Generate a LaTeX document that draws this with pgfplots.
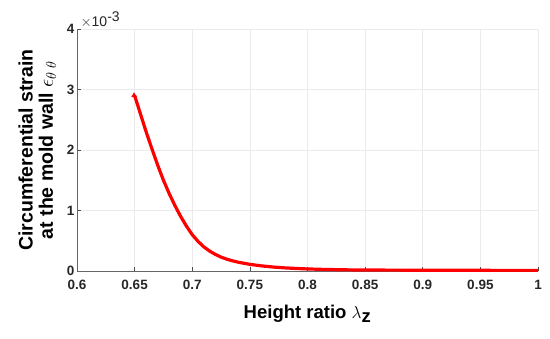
\documentclass[border=0pt]{standalone}
\usepackage{pgfplots}
\pgfplotsset{compat=1.18}
\usepackage{fontspec}
\setmainfont{Liberation Sans}
\begin{document}
\begin{tikzpicture}
\begin{axis}[
  scale only axis,
  width=461pt, height=242pt,
  xmin=0.6, xmax=1, ymin=0, ymax=4,
  xtick={0.6,0.65,...,1.001},
  xticklabels={0.6,0.65,0.7,0.75,0.8,0.85,0.9,0.95,1},
  ytick={0,1,2,3,4},
  axis x line*=bottom, axis y line*=left,
  axis line style={black!60, line width=0.8pt},
  tick style={black!70, line width=0.6pt},
  tick align=inside,
  major tick length=4pt,
  grid=major,
  grid style={black!8, line width=0.6pt},
  /pgf/number format/assume math mode=true,
  tick label style={font=\fontsize{13.5}{15}\selectfont\bfseries, text=black!85},
  xticklabel style={yshift=-6pt},
  yticklabel style={xshift=1pt},
  xlabel={\textbf{Height ratio} $\lambda_{\textbf{z}}$},
  xlabel style={font=\fontsize{18.5}{21}\selectfont\bfseries, yshift=-8pt},
  ylabel={\shortstack{\textbf{Circumferential strain}\\[3pt]\textbf{at the mold wall} $\epsilon_{\theta\;\theta}$}},
  ylabel style={font=\fontsize{19.5}{21}\selectfont\bfseries, yshift=4pt},
  clip=false,
]
\addplot[red, line width=3.2pt, line join=round] coordinates {
(0.650,2.90) (0.655,2.60) (0.660,2.30) (0.665,2.02) (0.670,1.75)
(0.675,1.50) (0.680,1.28) (0.685,1.08) (0.690,0.90) (0.695,0.74)
(0.700,0.60) (0.705,0.49) (0.710,0.40) (0.715,0.33) (0.720,0.275)
(0.725,0.23) (0.730,0.195) (0.735,0.168) (0.740,0.145) (0.750,0.110)
(0.760,0.085) (0.770,0.066) (0.780,0.052) (0.790,0.042) (0.800,0.034)
(0.815,0.026) (0.830,0.020) (0.850,0.016) (0.900,0.013) (0.950,0.011)
(1.000,0.010)
};
\addplot[red, only marks, mark=triangle*, mark size=2.8pt] coordinates {(0.6495,2.90)};
\node[anchor=south west, font=\fontsize{14}{15}\selectfont, text=black!85, inner sep=1pt] at (axis description cs:0.005,1) {$\times$10$^{\mbox{-3}}$};
\end{axis}
\pgfresetboundingbox
\useasboundingbox ([shift={(-77pt,-67pt)}]current axis.south west) rectangle ([shift={(12pt,29pt)}]current axis.north east);
\end{tikzpicture}
\end{document}
